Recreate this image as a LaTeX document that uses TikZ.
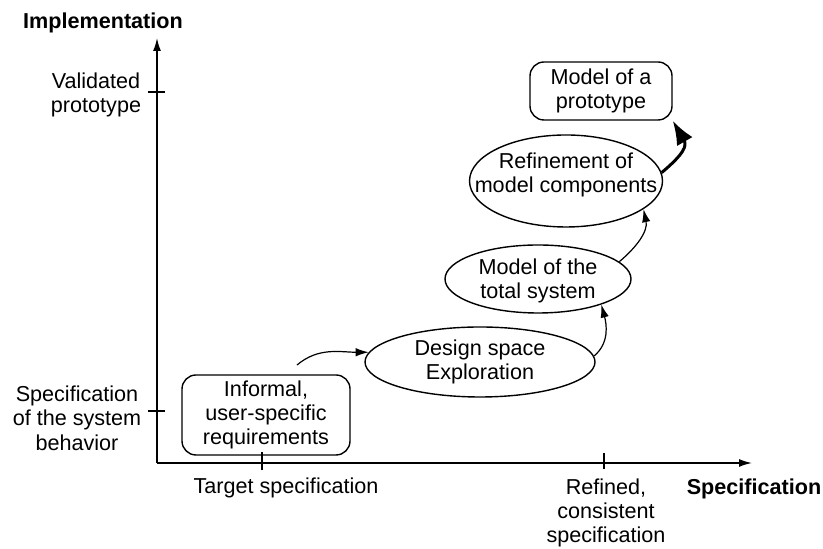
\documentclass[tikz,border=0pt]{standalone}
\usepackage{fontspec}
\setmainfont{Liberation Sans}
\usetikzlibrary{arrows.meta,shapes.geometric}
\begin{document}
\begin{tikzpicture}[
  x=0.5pt, y=0.5pt,
  font=\fontsize{10.8}{12.2}\selectfont, line width=0.7pt,
    box/.style={draw, rounded corners=7pt, align=center, inner sep=0pt},
    oval/.style={draw, ellipse, inner sep=0pt},
    lbl/.style={align=center},
    axlbl/.style={font=\fontsize{10.8}{12.2}\selectfont\bfseries},
    axis/.style={line width=0.8pt, -{Latex[length=6.5pt,width=4pt]}},
    flow/.style={line width=0.6pt, -{Latex[length=6.5pt,width=4.2pt]}},
    bigflow/.style={line width=1.5pt, -{Latex[length=12pt,width=9pt]}},
]
\useasboundingbox (0,0) rectangle (823,549);
% axes
\coordinate (o) at (157,86);
\coordinate (xend) at (752,86);
\coordinate (yend) at (157,511);
\draw[axis] (o) -- (xend);
\draw[axis] (o) -- (yend);
\draw (148,457) -- (165,457);
\draw (148,138) -- (165,138);
\draw (262,97) -- (262,79);
\draw (604,96) -- (604,80);
\node[axlbl] (impl) at (103,526) {Implementation};
\node[axlbl] (spec) at (754,60) {Specification};
\node[lbl] (valid) at (96,454) {Validated\\prototype};
\node[lbl] (behav) at (77,131) {Specification\\of the system\\behavior};
\node[lbl] (target) at (286,61) {Target specification};
\node[lbl] (refined) at (606,36) {Refined,\\consistent\\specification};
% steps
\node[box, minimum width=84pt, minimum height=40pt] (inf) at (266,134) {Informal,\\user-specific\\requirements};
\node[oval, minimum width=115pt, minimum height=35pt,
  label={[lbl]center:{Design space\\Exploration}}] (dse) at (480,187) {};
\node[oval, minimum width=93pt, minimum height=34pt,
  label={[lbl, yshift=-1pt]center:{Model of the\\total system}}] (mts) at (538,270) {};
\node[oval, minimum width=96.5pt, minimum height=46pt,
  label={[lbl, yshift=3pt]center:{Refinement of\\model components}}] (ref) at (566,368) {};
\node[box, minimum width=71pt, minimum height=29pt] (mop) at (601,458) {Model of a\\prototype};
% transitions
\coordinate (a1) at (297,184);
\draw[flow] (a1) to[out=40,in=180] (dse.175);
\draw[flow] (dse.3) to[out=40,in=-75] (mts.-22);
\draw[flow] (mts.12) to[out=40,in=-78] (ref.-20);
\draw[bigflow] (ref.5) to[out=40,in=-60,looseness=1.4] (mop.south east);
\end{tikzpicture}
\end{document}
